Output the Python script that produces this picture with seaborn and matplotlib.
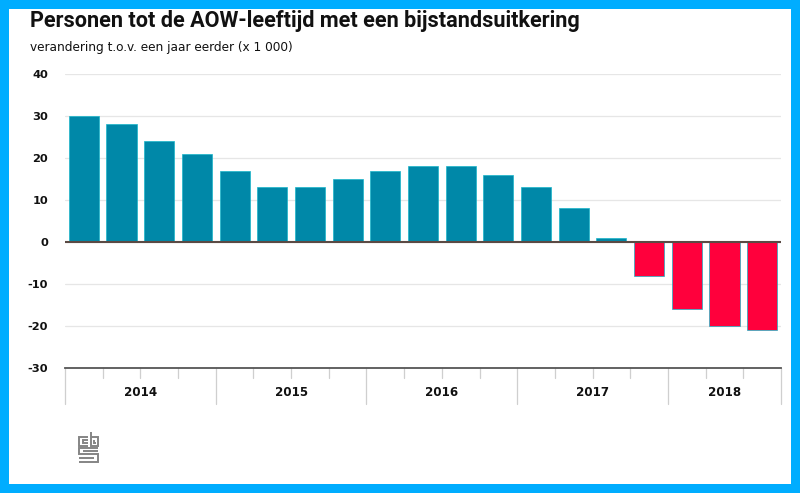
import matplotlib
matplotlib.use("Agg")
import matplotlib.pyplot as plt
from matplotlib.patches import Rectangle
from matplotlib.lines import Line2D
import pandas as pd
import seaborn as sns

title = "Personen tot de AOW-leeftijd met een bijstandsuitkering"
subtitle = "verandering t.o.v. een jaar eerder (x 1 000)"
quarters = ["14K1","14K2","14K3","14K4","15K1","15K2","15K3","15K4","16K1","16K2","16K3","16K4",
            "17K1","17K2","17K3","17K4","18K1","18K2","18K3"]
values = [30, 28, 24, 21, 17, 13, 13, 15, 17, 18, 18, 16, 13, 8, 1, -8, -16, -20, -21]
years = ["2014", "2015", "2016", "2017", "2018"]
year_quarters = [4, 4, 4, 4, 3]
yticks = [40, 30, 20, 10, 0, -10, -20, -30]

W, H = 800, 493
sns.set_theme(style="white")
plt.rcParams["font.family"] = ["DejaVu Sans"]
fig = plt.figure(figsize=(W/100, H/100), dpi=100, facecolor="white")
ax = fig.add_axes([65/W, 1-368/H, 716/W, 294/H])

df = pd.DataFrame({"q": quarters, "v": values})
df["sign"] = ["pos" if v >= 0 else "neg" for v in values]
sns.barplot(data=df, x="q", y="v", hue="sign", dodge=False, legend=False, width=0.8, saturation=1,
            palette={"pos": "#0088a8", "neg": "#ff003c"}, edgecolor="#19b5c9", linewidth=0.5,
            ax=ax, zorder=3)
ax.set_xlim(-0.5, len(values)-0.5)
ax.set_ylim(-30, 40)
ax.set_xlabel(""); ax.set_ylabel("")
ax.set_yticks(yticks)
ax.set_yticklabels([str(t) for t in yticks], fontsize=8.2, fontweight="bold", color="#111111")
ax.tick_params(axis="y", length=0, pad=12)
ax.yaxis.grid(True, color="#e6e6e6", linewidth=0.9, zorder=0)
ax.set_axisbelow(True)
for s in ["top", "left", "right"]:
    ax.spines[s].set_visible(False)
ax.spines["bottom"].set_color("#555555")
ax.spines["bottom"].set_linewidth(1.3)
ax.axhline(0, color="#5a4a44", linewidth=1.5, zorder=4)

ax.set_xticks([])
trans = ax.get_xaxis_transform()
pos = -0.5
for y, n in zip(years, year_quarters):
    ax.plot([pos, pos], [0, -36/294], transform=trans, clip_on=False, color="#cfcfcf", lw=0.9)
    for k in range(1, n):
        ax.plot([pos+k, pos+k], [0, -10/294], transform=trans, clip_on=False, color="#cfcfcf", lw=0.9)
    ax.text(pos+n/2, -24/294, y, transform=trans, ha="center", va="center",
            fontsize=8.6, fontweight="bold", color="#111111")
    pos += n
ax.plot([pos, pos], [0, -36/294], transform=trans, clip_on=False, color="#cfcfcf", lw=0.9)

fig.text(30/W, 1-21/H, title, fontsize=15.6, fontweight="bold", family="Roboto",
         color="#111111", va="center", ha="left")
fig.text(30/W, 1-48/H, subtitle, fontsize=8.7, color="#111111", va="center", ha="left")

# CBS logo
def path(xs, ys):
    fig.add_artist(Line2D([x/W for x in xs], [1-y/H for y in ys], color="#858585", lw=1.4,
                          solid_capstyle="butt", solid_joinstyle="miter"))
path([88, 79, 79, 88], [437, 437, 446, 446])
path([88, 83, 83, 88], [440, 440, 443, 443])
path([91, 91, 98, 98, 91], [432, 446, 446, 437, 437])
path([94, 94, 96], [440, 443, 443])
path([98, 79, 79, 98, 98, 79], [448, 448, 454, 454, 462, 462])
path([83, 98], [451, 451])
path([79, 94], [458, 458])

# Frame
c = "#00adff"
for x, y, w, h in [(0, 0, 9, 493), (791, 0, 9, 493), (0, 0, 800, 9), (0, 484, 800, 9)]:
    fig.add_artist(Rectangle((x/W, 1-(y+h)/H), w/W, h/H, transform=fig.transFigure,
                             facecolor=c, edgecolor="none", zorder=10))

fig.savefig("out.png", dpi=100, facecolor="white")
